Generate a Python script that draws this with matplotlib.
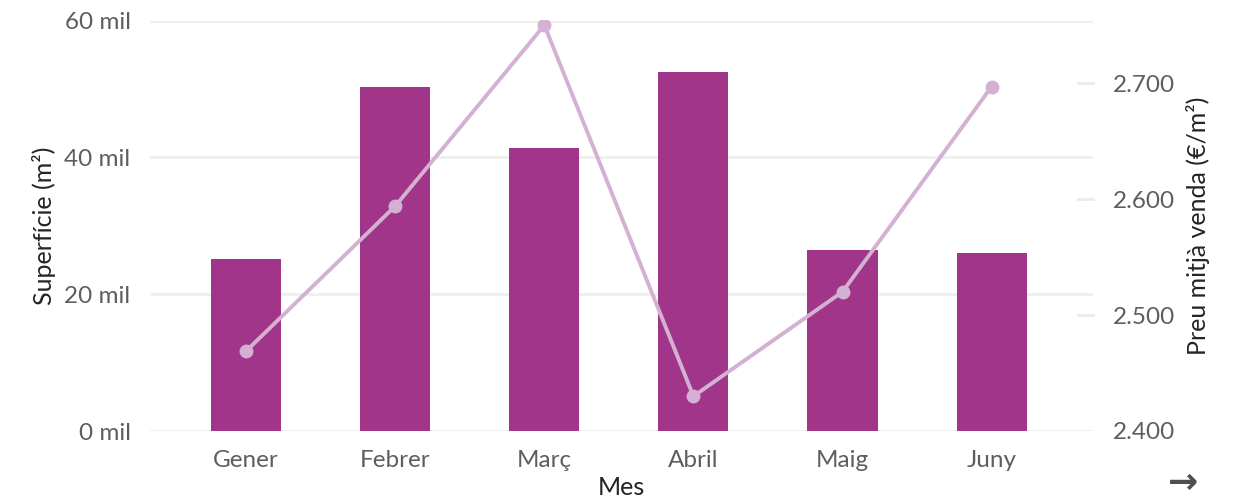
import numpy as np
import matplotlib
matplotlib.use("Agg")
import matplotlib.pyplot as plt
from matplotlib.ticker import FuncFormatter

months = ['Gener', 'Febrer', 'Març', 'Abril', 'Maig', 'Juny']
surface = [25200, 50300, 41300, 52400, 26500, 26050]   # m2
price = [2469, 2594, 2750, 2430, 2520, 2697]           # EUR/m2

bar_color = '#A0358A'
line_color = '#D4B1D2'
tick_color = '#605E5C'

plt.rcParams['font.family'] = ['Lato', 'DejaVu Sans']

fig = plt.figure(figsize=(12.35, 5), dpi=100)
ax = fig.add_axes([0.1215, 0.138, 0.7635, 0.821])
x = np.arange(len(months))

ax.bar(x, surface, width=0.47, color=bar_color, zorder=2)
ax.set_ylim(0, 60000)
ax.set_xlim(-0.645, 5.68)
ax.set_yticks([0, 20000, 40000, 60000])
ax.yaxis.set_major_formatter(FuncFormatter(lambda v, p: '{0:.0f} mil'.format(v/1000)))
ax.grid(axis='y', color='#F0F0F0', linewidth=2.2, zorder=0)
ax.set_xticks(x)
ax.set_xticklabels(months)
for s in ax.spines.values():
    s.set_visible(False)
ax.tick_params(axis='both', length=0, labelsize=17.5, labelcolor=tick_color)
ax.tick_params(axis='y', pad=14)
ax.tick_params(axis='x', pad=14)
ax.set_ylabel('Superfície (m²)', fontsize=18, color='#252423', labelpad=6)
ax.set_xlabel('Mes', fontsize=18, color='#252423', labelpad=3)

ax2 = ax.twinx()
ax2.plot(x, price, '-o', color=line_color, linewidth=2.8, markersize=9, zorder=3)
ax2.set_ylim(2400, 2754)
ax2.set_yticks([2400, 2500, 2600, 2700])
ax2.yaxis.set_major_formatter(FuncFormatter(lambda v, p: '{0:,.0f}'.format(v).replace(',', '.')))
for s in ax2.spines.values():
    s.set_visible(False)
ax2.tick_params(axis='y', length=0, labelsize=17.5, labelcolor=tick_color, pad=14)
ax2.set_ylabel('Preu mitjà venda (€/m²)', fontsize=18, color='#252423', labelpad=8)
for t in [2500, 2600, 2700]:
    ax2.plot([5.58, 5.68], [t, t], color='#EBEBEB', linewidth=2, clip_on=False)
ax2.set_xlim(-0.645, 5.68)

fig.text(0.958, 0.035, '→', fontsize=26, color='#505050', ha='center', va='center',
         fontweight='bold', family='DejaVu Sans')

plt.savefig('out.png')
